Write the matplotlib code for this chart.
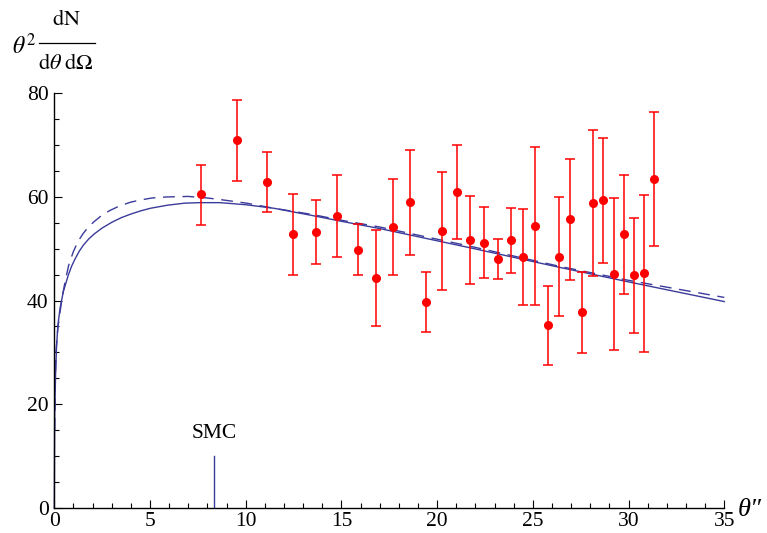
import matplotlib
matplotlib.use("Agg")
import matplotlib.pyplot as plt
from matplotlib.ticker import MultipleLocator
from matplotlib.lines import Line2D

plt.rcParams['font.family'] = ['Liberation Serif', 'DejaVu Serif']
plt.rcParams['mathtext.fontset'] = 'stix'

# Data points (theta in arcsec, value, upper, lower)
theta = [7.66, 9.56, 11.1, 12.45, 13.67, 14.79, 15.85, 16.82, 17.71, 18.6,
         19.44, 20.24, 21.02, 21.74, 22.47, 23.17, 23.85, 24.5, 25.13, 25.78,
         26.37, 26.96, 27.55, 28.13, 28.69, 29.24, 29.78, 30.3, 30.83, 31.33]
value = [60.5, 71.0, 62.8, 52.8, 53.2, 56.3, 49.8, 44.3, 54.2, 59.0,
         39.7, 53.4, 61.0, 51.7, 51.2, 48.1, 51.6, 48.4, 54.3, 35.3,
         48.5, 55.7, 37.8, 58.9, 59.4, 45.1, 52.8, 44.9, 45.3, 63.5]
upper = [66.2, 78.8, 68.7, 60.6, 59.4, 64.2, 54.7, 53.6, 63.5, 69.1,
         45.5, 64.9, 70.1, 60.2, 58.0, 51.9, 57.8, 57.7, 69.6, 42.9,
         60.0, 67.4, 45.5, 73.0, 71.4, 59.8, 64.2, 55.9, 60.4, 76.4]
lower = [54.6, 63.1, 57.0, 44.9, 47.0, 48.4, 44.9, 35.0, 44.9, 48.7,
         33.9, 42.0, 51.9, 43.2, 44.3, 44.2, 45.4, 39.1, 39.1, 27.6,
         37.1, 44.0, 29.9, 44.7, 47.3, 30.4, 41.3, 33.8, 30.1, 50.6]

# Model curves
solid_x = [0.0, 0.02, 0.07, 0.12, 0.19, 0.3, 0.47, 0.73, 0.9, 1.08, 1.3, 1.52,
           1.8, 2.1, 2.5, 3.0, 3.5, 4.0, 4.5, 5.0, 5.9, 6.8, 7.6, 8.66, 10.0,
           11.5, 13.5, 15.0, 17.0, 21.7, 26.4, 30.0, 35.0]
solid_y = [0.0, 18.0, 26.3, 31.4, 35.3, 38.5, 41.7, 44.9, 46.6, 48.0, 49.5, 50.7,
           51.9, 52.9, 54.0, 55.1, 56.0, 56.7, 57.3, 57.8, 58.4, 58.8, 58.9, 58.9, 58.5,
           57.8, 56.4, 55.3, 53.9, 50.2, 46.4, 43.6, 39.8]
dash_x = [0.02, 0.05, 0.09, 0.18, 0.3, 0.43, 0.56, 0.75, 0.99, 1.25, 1.52, 1.8,
          2.1, 2.5, 2.91, 3.43, 4.0, 4.48, 5.1, 5.87, 7.0, 8.0, 8.66, 10.05,
          11.5, 13.5, 15.0, 17.0, 21.7, 26.4, 30.0, 35.0]
dash_y = [15.0, 24.0, 30.1, 34.5, 37.8, 41.0, 43.6, 46.8, 49.4, 51.5, 53.0, 54.3,
          55.3, 56.5, 57.4, 58.3, 59.0, 59.4, 59.8, 60.0, 60.1, 59.8, 59.5, 58.8,
          57.8, 56.6, 55.5, 54.2, 50.5, 46.6, 43.9, 40.6]

smc_x = 8.34
smc_top = 10.0

curve_color = '#3b3b9b'

fig = plt.figure(figsize=(7.67, 5.33), dpi=100)
ax = fig.add_axes([0.0708, 0.0475, 0.8735, 0.7773])

ax.plot(solid_x, solid_y, color=curve_color, lw=1.0, clip_on=False)
ax.plot(dash_x, dash_y, color=curve_color, lw=1.0, ls=(0, (8.5, 5.5)), clip_on=False)

yerr = [[v - l for v, l in zip(value, lower)], [u - v for v, u in zip(value, upper)]]
ax.errorbar(theta, value, yerr=yerr, fmt='o', color='#ff0000', ms=5.5,
            elinewidth=1.1, capsize=3.5, capthick=1.1, zorder=3)

ax.plot([smc_x, smc_x], [0, smc_top], color=curve_color, lw=1.0)
ax.text(smc_x, 14.4, 'SMC', ha='center', va='center', fontsize=15.5)

ax.set_xlim(0, 35)
ax.set_ylim(0, 80)
for s in ['top', 'right']:
    ax.spines[s].set_visible(False)
for s in ['left', 'bottom']:
    ax.spines[s].set_linewidth(1.0)
ax.xaxis.set_major_locator(MultipleLocator(5))
ax.xaxis.set_minor_locator(MultipleLocator(1))
ax.yaxis.set_major_locator(MultipleLocator(20))
ax.yaxis.set_minor_locator(MultipleLocator(5))
ax.tick_params(which='both', direction='in', labelsize=15.5, width=0.8)
ax.tick_params(which='major', length=6)
ax.tick_params(which='minor', length=3.5)
ax.tick_params(axis='x', pad=3)
ax.tick_params(axis='y', pad=4)

# axis labels
fig.text(738 / 767, 1 - 510 / 533, "θ″", fontsize=19, style='italic',
         ha='left', va='center')
fig.text(0.015, 1 - 46 / 533, r"$\theta^2$", fontsize=17, ha='left', va='center')
fig.text(66 / 767, 1 - 20 / 533, r"$\mathrm{dN}$", fontsize=16, ha='center', va='center')
fig.text(66 / 767, 1 - 64 / 533, r"$\mathrm{d}\theta\;\mathrm{d}\Omega$", fontsize=16,
         ha='center', va='center')
fig.add_artist(Line2D([39 / 767, 95 / 767], [1 - 42.7 / 533, 1 - 42.7 / 533],
                      color='black', lw=0.9, transform=fig.transFigure))

fig.savefig('out.png', dpi=100)
